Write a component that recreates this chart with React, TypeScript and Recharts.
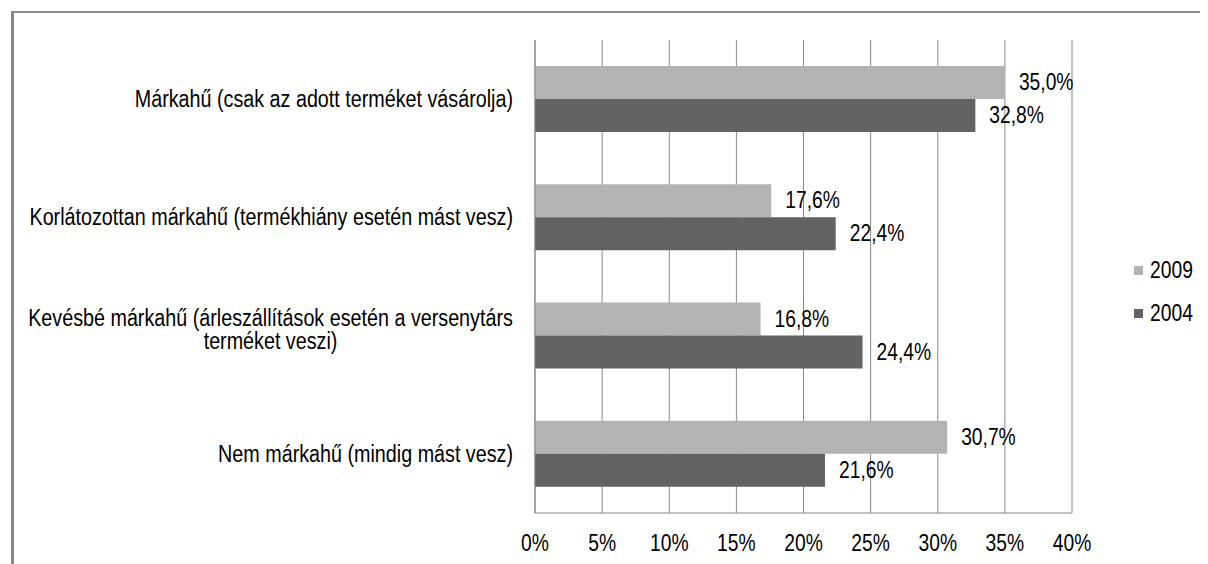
import React from "react";
import {
  BarChart,
  Bar,
  XAxis,
  YAxis,
  CartesianGrid,
  Legend,
  LabelList,
} from "recharts";

const categories = [
  "Márkahű (csak az adott terméket vásárolja)",
  "Korlátozottan márkahű (termékhiány esetén mást vesz)",
  "Kevésbé márkahű (árleszállítások esetén a versenytárs terméket veszi)",
  "Nem márkahű (mindig mást vesz)",
];
const seriesNames = ["2009", "2004"];
const values2009 = [35.0, 17.6, 16.8, 30.7];
const values2004 = [32.8, 22.4, 24.4, 21.6];
const xTicks = [0, 5, 10, 15, 20, 25, 30, 35, 40];
const colors = ["#b3b3b3", "#636363"];

const data = categories.map((name, i) => ({
  name,
  s2009: values2009[i],
  s2004: values2004[i],
}));

// Liberation Sans squeezed horizontally emulates Arial Narrow
const FONT_FAMILY = '"Liberation Sans", Arial, sans-serif';
const FONT_SIZE = 23.5;
const NARROW = 0.82;
const NARROW_CAT = 0.84;
const GRID = "#888888";

let measureCtx: CanvasRenderingContext2D | null = null;
function measure(text: string, scale: number): number {
  if (!measureCtx) {
    const c = document.createElement("canvas");
    measureCtx = c.getContext("2d");
  }
  if (!measureCtx) return text.length * 9;
  measureCtx.font = `${FONT_SIZE}px ${FONT_FAMILY}`;
  return measureCtx.measureText(text).width * scale;
}

function wrap(text: string, maxWidth: number, scale: number): string[] {
  const words = text.split(" ");
  const lines: string[] = [];
  let cur = "";
  for (const w of words) {
    const next = cur ? cur + " " + w : w;
    if (cur && measure(next, scale) > maxWidth) {
      lines.push(cur);
      cur = w;
    } else {
      cur = next;
    }
  }
  if (cur) lines.push(cur);
  return lines;
}

const LINE_H = 23;

function NarrowText(props: {
  x: number;
  y: number;
  anchor: "start" | "middle" | "end";
  scale?: number;
  children: React.ReactNode;
}) {
  const { x, y, anchor, children } = props;
  const s = props.scale ?? NARROW;
  return (
    <g transform={`translate(${x},${y}) scale(${s},1)`}>
      <text
        x={0}
        y={0}
        textAnchor={anchor}
        dominantBaseline="central"
        fontFamily={FONT_FAMILY}
        fontSize={FONT_SIZE}
        fill="#000"
      >
        {children}
      </text>
    </g>
  );
}

function CategoryTick(props: any) {
  const { x, y, payload } = props;
  const lines = wrap(String(payload.value), 505, NARROW_CAT);
  if (lines.length === 1) {
    return (
      <NarrowText x={x} y={y} anchor="end" scale={NARROW_CAT}>
        {lines[0]}
      </NarrowText>
    );
  }
  const w = Math.max(...lines.map((l) => measure(l, NARROW_CAT)));
  const cx = x - w / 2;
  const startY = y - ((lines.length - 1) * LINE_H) / 2 - 6;
  return (
    <g>
      {lines.map((l, i) => (
        <NarrowText
          key={i}
          x={cx}
          y={startY + i * LINE_H}
          anchor="middle"
          scale={NARROW_CAT}
        >
          {l}
        </NarrowText>
      ))}
    </g>
  );
}

function ValueTick(props: any) {
  const { x, y, payload } = props;
  return (
    <NarrowText x={x} y={y} anchor="middle">
      {`${payload.value}%`}
    </NarrowText>
  );
}

const fmt = (v: any) => `${Number(v).toFixed(1).replace(".", ",")}%`;

function BarValueLabel(props: any) {
  const { x, y, width, height, value } = props;
  return (
    <NarrowText
      x={Number(x) + Number(width) + 14}
      y={Number(y) + Number(height) / 2}
      anchor="start"
    >
      {fmt(value)}
    </NarrowText>
  );
}

function LegendContent(props: any) {
  const payload = [...(props.payload || [])].sort(
    (a: any, b: any) => seriesNames.indexOf(a.value) - seriesNames.indexOf(b.value)
  );
  return (
    <div
      style={{
        fontFamily: FONT_FAMILY,
        fontSize: FONT_SIZE,
        color: "#000",
      }}
    >
      {payload.map((p: any, i: number) => (
        <div
          key={i}
          style={{ display: "flex", alignItems: "center", height: 43 }}
        >
          <span
            style={{
              display: "inline-block",
              width: 9,
              height: 9,
              background: p.color,
              marginRight: 7,
              flex: "none",
            }}
          />
          <span
            style={{
              display: "inline-block",
              transform: `scaleX(${NARROW})`,
              transformOrigin: "left center",
              whiteSpace: "nowrap",
            }}
          >
            {p.value}
          </span>
        </div>
      ))}
    </div>
  );
}

export default function App() {
  return (
    <div style={{ paddingLeft: 3, paddingTop: 3 }}>
      <div
        style={{
          width: 1200,
          height: 560,
          borderTop: `2px solid ${GRID}`,
          borderLeft: `3px solid ${GRID}`,
          paddingTop: 1,
          boxSizing: "border-box",
          background: "#fff",
        }}
      >
        <BarChart
          width={1190}
          height={550}
          data={data}
          layout="vertical"
          margin={{ top: 26, right: 32, bottom: 11, left: 0 }}
          barCategoryGap={26}
          barGap={0}
        >
          <CartesianGrid horizontal={false} stroke={GRID} strokeWidth={1} />
          <XAxis
            type="number"
            domain={[0, 40]}
            ticks={xTicks}
            axisLine={{ stroke: GRID }}
            tickLine={false}
            tickSize={0}
            tickMargin={30}
            height={40}
            tick={<ValueTick />}
          />
          <YAxis
            type="category"
            dataKey="name"
            width={521}
            axisLine={{ stroke: GRID }}
            tickLine={false}
            tickSize={0}
            tickMargin={22}
            tick={<CategoryTick />}
            interval={0}
          />
          <Legend
            layout="vertical"
            align="right"
            verticalAlign="middle"
            width={100}
            content={<LegendContent />}
            wrapperStyle={{ left: 1120, top: 235 }}
          />
          <Bar
            dataKey="s2009"
            name={seriesNames[0]}
            fill={colors[0]}
            isAnimationActive={false}
          >
            <LabelList dataKey="s2009" content={<BarValueLabel />} />
          </Bar>
          <Bar
            dataKey="s2004"
            name={seriesNames[1]}
            fill={colors[1]}
            isAnimationActive={false}
          >
            <LabelList dataKey="s2004" content={<BarValueLabel />} />
          </Bar>
        </BarChart>
      </div>
    </div>
  );
}
